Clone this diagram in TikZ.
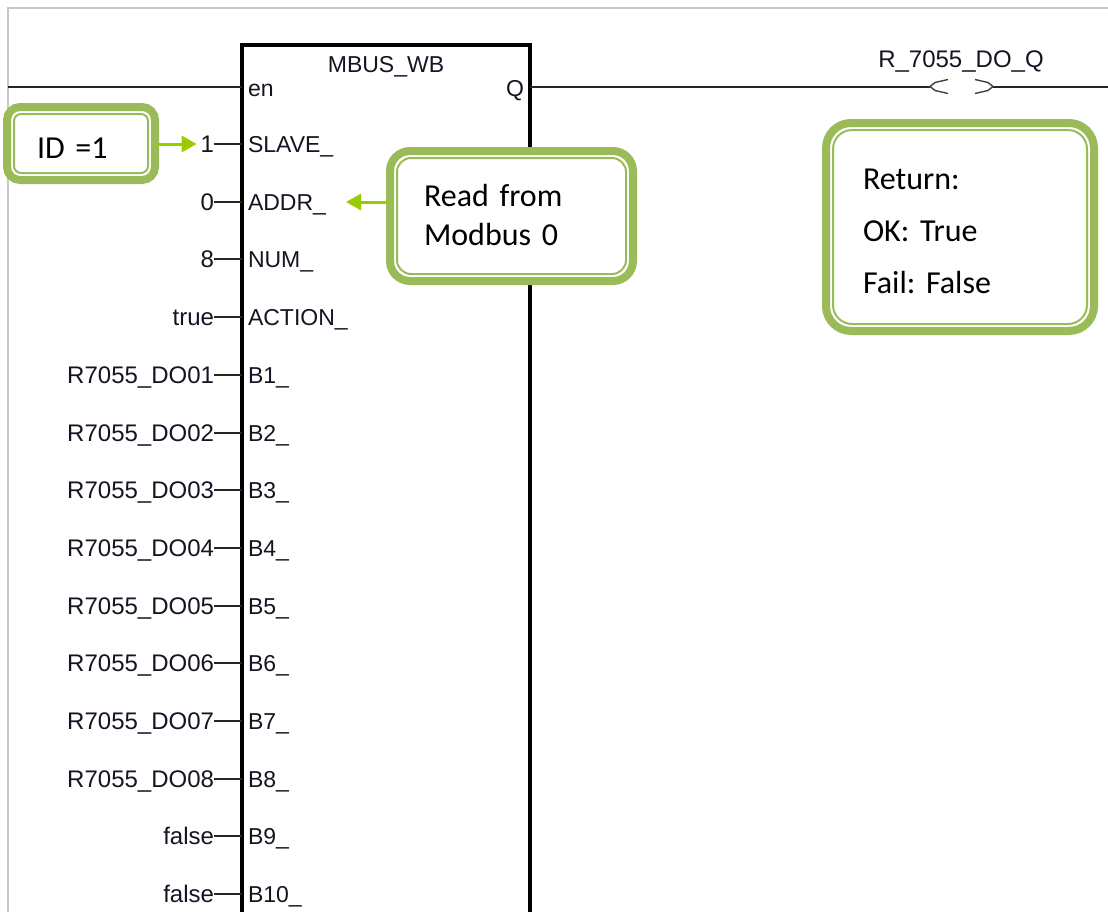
\documentclass[tikz,border=0pt]{standalone}
\usepackage{fontspec}
\setmainfont{Liberation Sans}
\newfontfamily\calloutfont{Carlito}
\usetikzlibrary{arrows.meta, calc}
\definecolor{cCallout}{RGB}{155,187,89}
\definecolor{cPointer}{RGB}{153,204,0}
\definecolor{cFrame}{RGB}{200,200,200}
\definecolor{cLabel}{RGB}{20,20,35}
\newcommand{\calloutstyle}{\calloutfont\fontsize{32}{39}\selectfont\frenchspacing\setlength{\spaceskip}{5pt}}
\tikzset{
	pinlabel/.style={text=cLabel, inner sep=0, outer sep=0, text height=17, text depth=0},
	vallabel/.style={pinlabel, font=\fontsize{24}{26}\selectfont},
	wire/.style={line width=2, black!85},
	callout/.style={draw=cCallout, line width=8, fill=white, rounded corners=#1, outer sep=0, align=left, font=\calloutstyle,
		path picture={\draw[cCallout, line width=2, rounded corners=#1-6] ($(path picture bounding box.south west)+(7,-7)$) rectangle ($(path picture bounding box.north east)+(-7,7)$);}},
	pointer/.style={draw=cPointer, line width=3, -{Triangle[length=15, width=16]}}
}
\begin{document}
\begin{tikzpicture}[x=1pt, y=-1pt, font=\fontsize{23}{25}\selectfont]
	\useasboundingbox (0,0) rectangle (1108,911);
	\clip (0,0) rectangle (1108,911);
	\fill[white] (0,0) rectangle (1108,911);
	\draw[cFrame, line width=2] (8,920) -- (8,8) -- (1120,8);
	\node[draw, line width=3.5, outer sep=0, minimum width=288, minimum height=950, anchor=north west] (mbus) at (242,45) {};
	\node[pinlabel] (mbusName) at (386,64) {MBUS\_WB};
	\node[pinlabel, anchor=west] (pinEn) at (248,88) {en};
	\node[pinlabel, anchor=east] (pinQ) at (524,88) {Q};
	\coordinate (railIn) at (8,86.5);
	\coordinate (railOut) at (1108,86.5);
	\node[vallabel] (coilName) at (961,59) {R\_7055\_DO\_Q};
	\coordinate (coilL) at (930,86.5);
	\coordinate (coilR) at (993,86.5);
	\draw[wire] (railIn) -- (railIn -| mbus.west);
	\draw[wire] (railIn -| mbus.east) -- (coilL);
	\draw[wire] (coilR) -- (railOut);
	\draw[line width=1.4, black!75] ($(coilL)+(18,-7)$) -- ($(coilL)+(5,-4)$) -- (coilL) -- ($(coilL)+(5,4)$) -- ($(coilL)+(18,7)$);
	\draw[line width=1.4, black!75] ($(coilR)+(-18,-7)$) -- ($(coilR)+(-5,-4)$) -- (coilR) -- ($(coilR)+(-5,4)$) -- ($(coilR)+(-18,7)$);
	\foreach \n/\v/\l in {0/1/SLAVE\_, 1/0/ADDR\_, 2/8/NUM\_, 3/true/ACTION\_, 4/R7055\_DO01/B1\_, 5/R7055\_DO02/B2\_, 6/R7055\_DO03/B3\_, 7/R7055\_DO04/B4\_, 8/R7055\_DO05/B5\_, 9/R7055\_DO06/B6\_, 10/R7055\_DO07/B7\_, 11/R7055\_DO08/B8\_, 12/false/B9\_, 13/false/B10\_} {
		\pgfmathsetmacro{\yy}{144+57.7*\n}
		\node[vallabel, anchor=east] (val\n) at (214,\yy) {\v};
		\node[pinlabel, anchor=west] (pin\n) at (248,\yy) {\l};
		\draw[wire] (val\n.east) -- (val\n.east -| mbus.west);
	}
	\node[callout=13, minimum width=148, minimum height=73, text width=88, inner xsep=30, text height=30] (idBox) at (81,143.5) {ID =1};
	\node[callout=20, minimum width=243, minimum height=130, text width=175, inner xsep=34] (readBox) at (511.5,216) {Read from\\Modbus 0\rule[-3pt]{0pt}{0pt}};
	\node[callout=25, minimum width=268, minimum height=208, text width=194, inner xsep=37] (returnBox) at (960,227) {\rule{0pt}{29pt}Return:\\[13pt]OK: True\\[13pt]Fail: False};
	\coordinate (addrTip) at (346,202);
	\draw[pointer] (idBox.east |- val0) -- ($(val0.west)+(-4,0)$);
	\draw[pointer] (readBox.west |- addrTip) -- (addrTip);
\end{tikzpicture}
\end{document}
